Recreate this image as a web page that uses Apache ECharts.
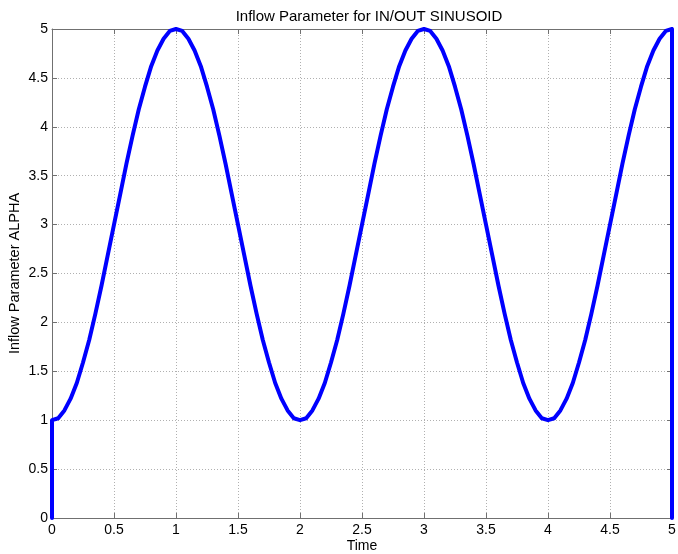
<!DOCTYPE html>
<html>
<head>
<meta charset="utf-8">
<script src="https://cdn.jsdelivr.net/npm/echarts@6/dist/echarts.min.js"></script>
<style>html,body{margin:0;padding:0;background:#fff}#c{width:678px;height:554px}</style>
</head>
<body>
<div id="c"></div>
<script>
const titleText = "Inflow Parameter for IN/OUT SINUSOID";
const xName = "Time";
const yName = "Inflow Parameter ALPHA";
const time = [0,
  0.00, 0.05, 0.10, 0.15, 0.20, 0.25, 0.30, 0.35, 0.40, 0.45, 0.50, 0.55, 0.60, 0.65, 0.70, 0.75, 0.80, 0.85, 0.90, 0.95, 1.00,
  1.05, 1.10, 1.15, 1.20, 1.25, 1.30, 1.35, 1.40, 1.45, 1.50, 1.55, 1.60, 1.65, 1.70, 1.75, 1.80, 1.85, 1.90, 1.95, 2.00,
  2.05, 2.10, 2.15, 2.20, 2.25, 2.30, 2.35, 2.40, 2.45, 2.50, 2.55, 2.60, 2.65, 2.70, 2.75, 2.80, 2.85, 2.90, 2.95, 3.00,
  3.05, 3.10, 3.15, 3.20, 3.25, 3.30, 3.35, 3.40, 3.45, 3.50, 3.55, 3.60, 3.65, 3.70, 3.75, 3.80, 3.85, 3.90, 3.95, 4.00,
  4.05, 4.10, 4.15, 4.20, 4.25, 4.30, 4.35, 4.40, 4.45, 4.50, 4.55, 4.60, 4.65, 4.70, 4.75, 4.80, 4.85, 4.90, 4.95, 5.00,
  5.00];
const alpha = [0,
  1.00, 1.02, 1.10, 1.22, 1.38, 1.59, 1.82, 2.09, 2.38, 2.69, 3.00, 3.31, 3.62, 3.91, 4.18, 4.41, 4.62, 4.78, 4.90, 4.98, 5.00,
  4.98, 4.90, 4.78, 4.62, 4.41, 4.18, 3.91, 3.62, 3.31, 3.00, 2.69, 2.38, 2.09, 1.82, 1.59, 1.38, 1.22, 1.10, 1.02, 1.00,
  1.02, 1.10, 1.22, 1.38, 1.59, 1.82, 2.09, 2.38, 2.69, 3.00, 3.31, 3.62, 3.91, 4.18, 4.41, 4.62, 4.78, 4.90, 4.98, 5.00,
  4.98, 4.90, 4.78, 4.62, 4.41, 4.18, 3.91, 3.62, 3.31, 3.00, 2.69, 2.38, 2.09, 1.82, 1.59, 1.38, 1.22, 1.10, 1.02, 1.00,
  1.02, 1.10, 1.22, 1.38, 1.59, 1.82, 2.09, 2.38, 2.69, 3.00, 3.31, 3.62, 3.91, 4.18, 4.41, 4.62, 4.78, 4.90, 4.98, 5.00,
  0];

const font = "Arial, 'Liberation Sans', Helvetica, sans-serif";
const chart = echarts.init(document.getElementById('c'), null, {renderer: 'canvas'});
const axisColor = '#707070';
const gridLine = {show: true, lineStyle: {color: '#b0b0b0', type: [1, 2], width: 1}};
const fmt = v => String(v);
chart.setOption({
  animation: false,
  backgroundColor: '#fff',
  title: {
    text: titleText, left: 364, top: 4, textAlign: 'center',
    textStyle: {fontFamily: font, fontSize: 15, fontWeight: 'normal', color: '#000'}
  },
  grid: {left: 52, right: 6, top: 29, bottom: 36, containLabel: false, outerBoundsMode: 'none'},
  xAxis: [{
    type: 'value', min: 0, max: 5, interval: 0.5,
    name: xName, nameLocation: 'middle', nameGap: 21, nameMoveOverlap: false,
    nameTextStyle: {fontFamily: font, fontSize: 14, color: '#000'},
    axisLine: {show: true, onZero: false, lineStyle: {color: axisColor, width: 1}},
    axisTick: {show: true, inside: true, length: 5, lineStyle: {color: axisColor}},
    axisLabel: {fontFamily: font, fontSize: 14, color: '#000', margin: 5, formatter: fmt},
    splitLine: gridLine
  }, {
    type: 'value', min: 0, max: 5, interval: 0.5, position: 'top',
    axisLine: {show: true, onZero: false, lineStyle: {color: axisColor, width: 1}},
    axisTick: {show: true, inside: true, length: 5, lineStyle: {color: axisColor}},
    axisLabel: {show: false}, splitLine: {show: false}
  }],
  yAxis: [{
    type: 'value', min: 0, max: 5, interval: 0.5,
    name: yName, nameLocation: 'middle', nameGap: 30, nameRotate: 90, nameMoveOverlap: false,
    nameTextStyle: {fontFamily: font, fontSize: 14.5, color: '#000'},
    axisLine: {show: true, onZero: false, lineStyle: {color: axisColor, width: 1}},
    axisTick: {show: true, inside: true, length: 5, lineStyle: {color: axisColor}},
    axisLabel: {fontFamily: font, fontSize: 14, color: '#000', margin: 4, formatter: fmt},
    splitLine: gridLine
  }, {
    type: 'value', min: 0, max: 5, interval: 0.5, position: 'right',
    axisLine: {show: true, onZero: false, lineStyle: {color: axisColor, width: 1}},
    axisTick: {show: true, inside: true, length: 5, lineStyle: {color: axisColor}},
    axisLabel: {show: false}, splitLine: {show: false}
  }],
  series: [{
    type: 'line',
    data: time.map((t, i) => [t, alpha[i]]),
    showSymbol: false, symbol: 'none',
    clip: true,
    lineStyle: {color: '#0000ff', width: 4, join: 'round', cap: 'round'},
    z: 5
  }]
});
</script>
</body>
</html>
